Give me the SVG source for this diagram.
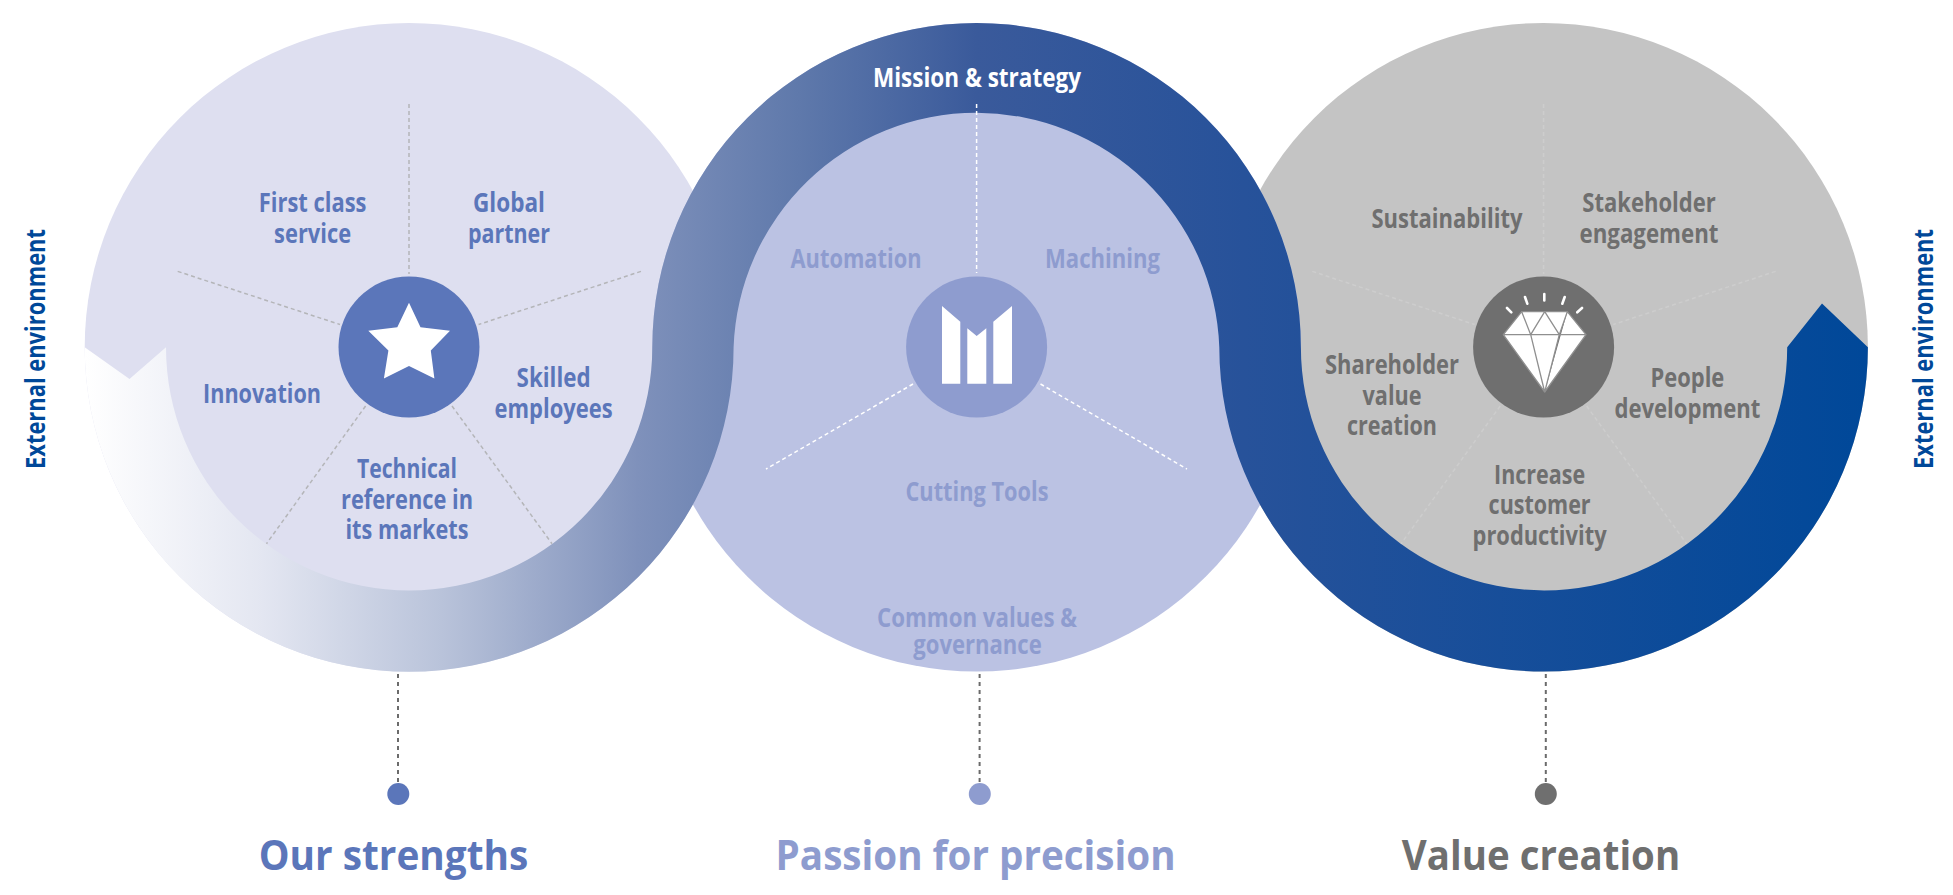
<svg xmlns="http://www.w3.org/2000/svg" width="1953" height="895" viewBox="0 0 1953 895">
<style>
text{font-family:"Open Sans","Noto Sans","Liberation Sans",sans-serif;font-weight:700;text-anchor:middle;font-size:26.5px}
.a{fill:#5b76ba}.b{fill:#8e9ccf}.c{fill:#6f6f6f}.w{fill:#fff}.e{fill:#004899}
.t{font-size:42px}
.sp{fill:none;stroke-width:1.5;stroke-dasharray:4 3}
.s1{stroke:#b4b5b8}.s2{stroke:#fff}.s3{stroke:#cdcdcd}
.drop{stroke:#6b6b6b;stroke-width:2;stroke-dasharray:4 4;fill:none}
</style>
<defs>
<linearGradient id="rib" gradientUnits="userSpaceOnUse" x1="85" y1="0" x2="1868" y2="0">
<stop offset="0" stop-color="#fff"/>
<stop offset="0.1" stop-color="#e3e6f1"/>
<stop offset="0.2" stop-color="#b9c3da"/>
<stop offset="0.31" stop-color="#7f91bb"/>
<stop offset="0.4" stop-color="#5f79ab"/>
<stop offset="0.5" stop-color="#3a5a9b"/>
<stop offset="0.65" stop-color="#27529a"/>
<stop offset="1" stop-color="#004899"/>
</linearGradient>
</defs>
<g id="circle-strengths"><circle cx="409" cy="347.300" r="324.300" fill="#dedff0"/></g>
<g id="circle-value"><circle cx="1543.600" cy="347.300" r="324.300" fill="#c4c4c4"/></g>
<g id="circle-passion"><circle cx="976.600" cy="347.300" r="324.300" fill="#bbc2e3"/></g>
<g id="ribbon"><path fill="url(#rib)" d="M84.700 347.300L129.500 379L166 347.300A243 243 0 0 0 652.300 347.300A324.300 324.300 0 0 1 1300.900 347.300A243 243 0 0 0 1787.200 347.300L1822 303.600L1867.900 347.300A324.300 324.300 0 0 1 1219.300 347.300A243 243 0 0 0 733.600 347.300A324.300 324.300 0 0 1 84.700 347.300Z"/></g>
<g id="connectors">
<path class="sp s1" d="M409 104V274M177.700 271.400L340 324.500M641 271.400L478.600 324.500M365.600 406L266.500 543.700M452 406L552 543.700"/>
<path class="sp s2" d="M976.600 104V273M913 384L766 469M1040.500 384L1187 469"/>
<path class="sp s3" d="M1543.600 104V274M1312.300 271.400L1474.600 324.500M1775.600 271.400L1613.200 324.500M1500.200 406L1401.100 543.700M1586.600 406L1686.600 543.700"/>
<path class="drop" d="M398 674V784M979.600 674V784M1545.800 674V784"/>
</g>
<g id="hub-strengths"><circle cx="409" cy="347" r="70.500" fill="#5b76ba"/>
<polygon fill="#fff" points="409,302.700 420.500,327.200 450,330.800 430.800,350.400 434.400,378.600 409,366 383.900,378.600 388.400,350.400 368.300,330.800 397.300,327.200"/></g>
<g id="hub-passion"><circle cx="976.600" cy="347" r="70.500" fill="#8e9ccf"/>
<path fill="#fff" d="M942 306L960.300 321.700V383.700H942ZM967.300 328.300L976.700 336L986.300 328.300V383.700H967.300ZM1012 306L993.300 321.700V383.700H1012Z"/></g>
<g id="hub-value"><circle cx="1543.600" cy="347" r="70.500" fill="#6f6f6f"/>
<path fill="#fff" stroke="#8f8f8f" stroke-width="1.300" stroke-linejoin="round" d="M1521.700 311.700H1567.300L1586 334.700L1544.700 392L1503.300 334.700ZM1503.300 334.700H1586M1521.700 311.700L1530.700 334.700L1544.700 392M1567.300 311.700L1559.300 334.700L1544.700 392M1530.700 334.700L1544.700 311.700L1559.300 334.700"/>
<path fill="none" stroke="#fff" stroke-width="2.600" stroke-linecap="round" d="M1525 297L1527.300 303.700M1544.300 294V300.500M1564.700 297L1562.300 303.700M1582 308L1577.300 312.300M1507 308L1511.300 312.300"/></g>
<g id="labels-strengths">
<text class="a" x="312.600" y="212" textLength="107.600" lengthAdjust="spacingAndGlyphs">First class</text>
<text class="a" x="312.600" y="243" textLength="77" lengthAdjust="spacingAndGlyphs">service</text>
<text class="a" x="509" y="212" textLength="72" lengthAdjust="spacingAndGlyphs">Global</text>
<text class="a" x="509" y="243" textLength="82" lengthAdjust="spacingAndGlyphs">partner</text>
<text class="a" x="262" y="403" textLength="118" lengthAdjust="spacingAndGlyphs">Innovation</text>
<text class="a" x="553.600" y="387" textLength="74" lengthAdjust="spacingAndGlyphs">Skilled</text>
<text class="a" x="553.600" y="418" textLength="118" lengthAdjust="spacingAndGlyphs">employees</text>
<text class="a" x="407" y="478" textLength="100" lengthAdjust="spacingAndGlyphs">Technical</text>
<text class="a" x="407" y="509" textLength="132" lengthAdjust="spacingAndGlyphs">reference in</text>
<text class="a" x="407" y="539" textLength="123" lengthAdjust="spacingAndGlyphs">its markets</text>
</g>
<g id="labels-passion">
<text class="w" x="977" y="87" textLength="208" lengthAdjust="spacingAndGlyphs">Mission &amp; strategy</text>
<text class="b" x="856" y="268" textLength="131" lengthAdjust="spacingAndGlyphs">Automation</text>
<text class="b" x="1102.500" y="268" textLength="115" lengthAdjust="spacingAndGlyphs">Machining</text>
<text class="b" x="977" y="501" textLength="143" lengthAdjust="spacingAndGlyphs">Cutting Tools</text>
<text class="b" x="977" y="627" textLength="200" lengthAdjust="spacingAndGlyphs">Common values &amp;</text>
<text class="b" x="977.500" y="654" textLength="128.500" lengthAdjust="spacingAndGlyphs">governance</text>
</g>
<g id="labels-value">
<text class="c" x="1447" y="227.800" textLength="151" lengthAdjust="spacingAndGlyphs">Sustainability</text>
<text class="c" x="1649" y="212" textLength="133.500" lengthAdjust="spacingAndGlyphs">Stakeholder</text>
<text class="c" x="1649" y="243" textLength="139" lengthAdjust="spacingAndGlyphs">engagement</text>
<text class="c" x="1392" y="374" textLength="134" lengthAdjust="spacingAndGlyphs">Shareholder</text>
<text class="c" x="1392" y="404.600" textLength="59" lengthAdjust="spacingAndGlyphs">value</text>
<text class="c" x="1392" y="435" textLength="90" lengthAdjust="spacingAndGlyphs">creation</text>
<text class="c" x="1687.400" y="387" textLength="73.700" lengthAdjust="spacingAndGlyphs">People</text>
<text class="c" x="1687.400" y="418" textLength="146" lengthAdjust="spacingAndGlyphs">development</text>
<text class="c" x="1539.600" y="483.600" textLength="91" lengthAdjust="spacingAndGlyphs">Increase</text>
<text class="c" x="1539.600" y="514.400" textLength="102" lengthAdjust="spacingAndGlyphs">customer</text>
<text class="c" x="1539.600" y="544.700" textLength="134" lengthAdjust="spacingAndGlyphs">productivity</text>
</g>
<g id="external-left"><text class="e" transform="translate(45 349) rotate(-90)" textLength="240" lengthAdjust="spacingAndGlyphs">External environment</text></g>
<g id="external-right"><text class="e" transform="translate(1933 349) rotate(-90)" textLength="240" lengthAdjust="spacingAndGlyphs">External environment</text></g>
<g id="pillar-strengths"><circle cx="398.300" cy="794" r="11" fill="#5b76ba"/>
<text class="a t" x="393.500" y="869.500" textLength="269.500" lengthAdjust="spacingAndGlyphs">Our strengths</text></g>
<g id="pillar-passion"><circle cx="979.800" cy="794" r="11" fill="#8e9ccf"/>
<text class="b t" x="975.600" y="869.500" textLength="400" lengthAdjust="spacingAndGlyphs">Passion for precision</text></g>
<g id="pillar-value"><circle cx="1545.800" cy="794" r="11" fill="#6f6f6f"/>
<text class="c t" x="1541" y="869.500" textLength="278.300" lengthAdjust="spacingAndGlyphs">Value creation</text></g>
</svg>
